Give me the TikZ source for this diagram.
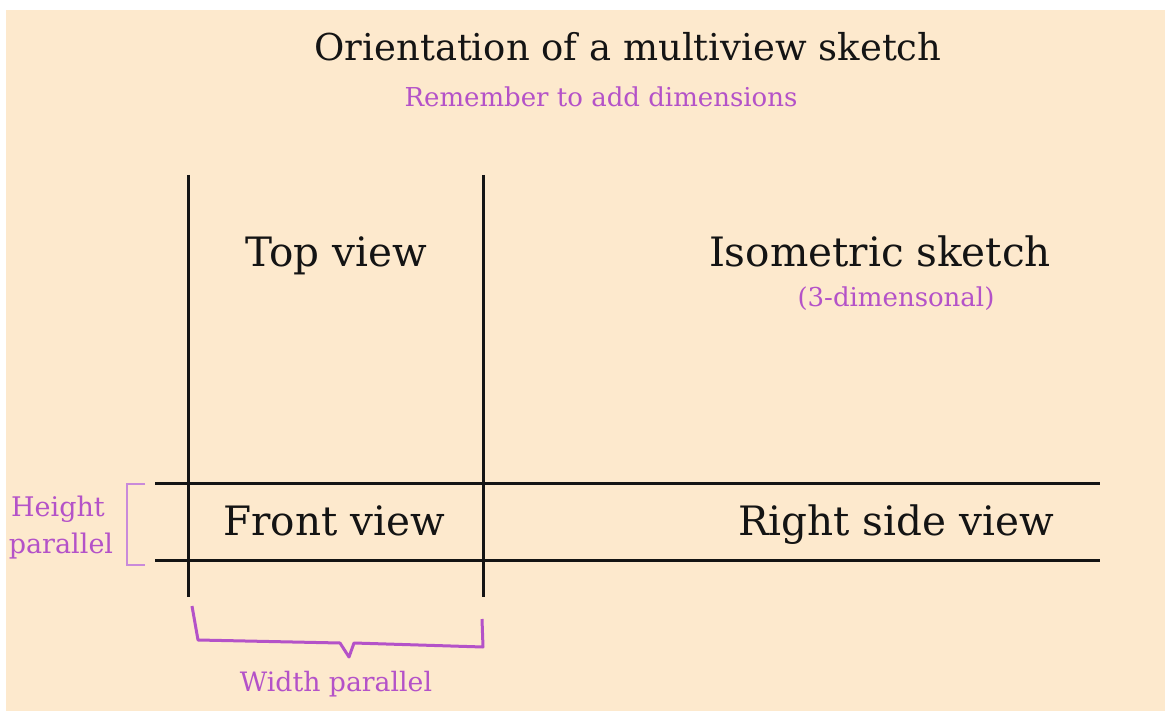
\documentclass[tikz,border=0pt]{standalone}
\usepackage{fontspec}
\setmainfont{DejaVu Serif}
\definecolor{peach}{HTML}{FDE9CD}
\definecolor{purp}{HTML}{B452C8}
\definecolor{lpurp}{HTML}{C98ADA}
\definecolor{ink}{HTML}{141414}
\begin{document}
\begin{tikzpicture}[x=1pt,y=-1pt,
  rule/.style={draw=ink,line width=3pt},
  brk/.style={draw=purp,line width=3pt,line join=round},
  big/.style={font=\fontsize{40.5}{46}\selectfont,text=ink,inner sep=0pt,anchor=base},
  note/.style={font=\fontsize{26}{30}\selectfont,text=purp,inner sep=0pt,anchor=base}]
\useasboundingbox (0,0) rectangle (1165,714);
\fill[white] (0,0) rectangle (1165,714);
\fill[peach] (6,10) rectangle (1165,711);
% title
\node[big,font=\fontsize{37}{42}\selectfont] (title) at (628,61) {Orientation of a multiview sketch};
\node[note] (remember) at (601,107) {Remember to add dimensions};
% grid lines
\coordinate (v1t) at (188,175); \coordinate (v1b) at (188,597);
\coordinate (v2t) at (483,175); \coordinate (v2b) at (483,597);
\coordinate (h1l) at (155,483); \coordinate (h1r) at (1100,483);
\coordinate (h2l) at (155,560); \coordinate (h2r) at (1100,560);
\draw[rule] (v1t) -- (v1b);
\draw[rule] (v2t) -- (v2b);
\draw[rule] (h1l) -- (h1r);
\draw[rule] (h2l) -- (h2r);
% labels
\node[big] (top) at (336,267) {Top view};
\node[big] (iso) at (880,267) {Isometric sketch};
\node[note] (three) at (896,306) {(3-dimensonal)};
\node[big] (front) at (334,535) {Front view};
\node[big] (right) at (896,535) {Right side view};
\node[note,font=\fontsize{27}{30}\selectfont] (height) at (58,516) {Height};
\node[note,font=\fontsize{27}{30}\selectfont] (parallel) at (61,553) {parallel};
\node[note,font=\fontsize{26.7}{30}\selectfont] (width) at (336,691) {Width parallel};
% brackets
\coordinate (hb1) at (145,484); \coordinate (hb2) at (127,484);
\coordinate (hb3) at (127,565); \coordinate (hb4) at (145,565);
\draw[draw=lpurp,line width=2.6pt] (hb1) -- (hb2) -- (hb3) -- (hb4);
\coordinate (wb1) at (192,606); \coordinate (wb2) at (198,640);
\coordinate (wb3) at (340,643); \coordinate (wb4) at (349,657);
\coordinate (wb5) at (354,643); \coordinate (wb6) at (483,647);
\coordinate (wb7) at (482,619);
\draw[brk] (wb1) -- (wb2) -- (wb3) -- (wb4) -- (wb5) -- (wb6) -- (wb7);
\end{tikzpicture}
\end{document}
